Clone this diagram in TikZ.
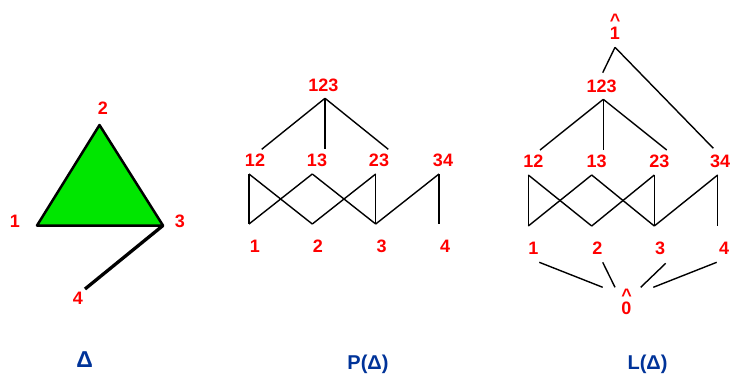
\documentclass[tikz,border=0pt]{standalone}
\usepackage{fontspec}
\setmainfont{Liberation Sans}
\definecolor{facegreen}{RGB}{0,230,0}
\definecolor{capblue}{RGB}{0,51,153}
\tikzset{
  lbl/.style={text=red, font=\fontsize{18}{21}\selectfont\bfseries, inner sep=0pt},
  caption/.style={text=capblue, font=\fontsize{20}{24}\selectfont\bfseries, inner sep=0pt},
  edge/.style={line width=1.4pt},
}
\newcommand{\hatlbl}[1]{\ooalign{\hfil\raisebox{13pt}{\textasciicircum}\hfil\cr #1}}
\begin{document}
\begin{tikzpicture}[x=1pt,y=-1pt]
  \useasboundingbox (0,0) rectangle (730,383);
  % the simplex
  \coordinate (v1) at (37,225.5);
  \coordinate (v2) at (99.5,125);
  \coordinate (v3) at (163,225.5);
  \coordinate (v4) at (85,289);
  \draw[fill=facegreen, line width=2.5pt, line join=round] (v1) -- (v2) -- (v3) -- cycle;
  \draw[line width=3.3pt] (v3) -- (v4);
  \draw
    (15,221.7) node[lbl] (s1){1}
    (103,108) node[lbl] (s2){2}
    (180,221.7) node[lbl] (s3){3}
    (78,298) node[lbl] (s4){4};
  % face poset
  \draw
    (255,246.7) node[lbl] (p1){1}
    (318,246.7) node[lbl] (p2){2}
    (381.7,246.7) node[lbl] (p3){3}
    (445,246.7) node[lbl] (p4){4}
    (255,160) node[lbl] (p12){12}
    (317,160) node[lbl] (p13){13}
    (379,160) node[lbl] (p23){23}
    (443,160) node[lbl] (p34){34}
    (323.3,85) node[lbl] (p123){123};
  \path
    (325,98.3) coordinate (p123s)
    (261.7,149.3) coordinate (p12n)
    (325,149.3) coordinate (p13n)
    (388.3,149.3) coordinate (p23n)
    (249,174) coordinate (p12s)
    (312.3,174) coordinate (p13s)
    (375.7,174) coordinate (p23s)
    (439,174) coordinate (p34s)
    (249,224) coordinate (p1n)
    (312.3,224) coordinate (p2n)
    (375.7,224) coordinate (p3n)
    (439,224) coordinate (p4n);
  \begin{scope}[edge]
    \draw (p123s) to (p12n);
    \draw (p123s) to (p13n);
    \draw (p123s) to (p23n);
    \draw (p12s) to (p1n);
    \draw (p12s) to (p2n);
    \draw (p13s) to (p1n);
    \draw (p13s) to (p3n);
    \draw (p23s) to (p2n);
    \draw (p23s) to (p3n);
    \draw (p34s) to (p3n);
    \draw (p34s) to (p4n);
  \end{scope}
  % face lattice
  \draw
    (615,39.5) node[lbl, anchor=base] (ltop){\hatlbl{1}}
    (601.7,86) node[lbl] (l123){123}
    (533.3,161.7) node[lbl] (l12){12}
    (596.7,161.7) node[lbl] (l13){13}
    (659.3,161.7) node[lbl] (l23){23}
    (720,161.7) node[lbl] (l34){34}
    (533.3,248.3) node[lbl] (l1){1}
    (597.3,248.3) node[lbl] (l2){2}
    (660,248.3) node[lbl] (l3){3}
    (724,248.3) node[lbl] (l4){4}
    (626.7,314.5) node[lbl, anchor=base] (lbot){\hatlbl{0}};
  \path
    (615,47.3) coordinate (ltops)
    (602.7,72.7) coordinate (l123n)
    (713.3,148.3) coordinate (l34n)
    (603.3,99.3) coordinate (l123s)
    (540,150) coordinate (l12n)
    (603.3,150) coordinate (l13n)
    (666.7,150) coordinate (l23n)
    (528.3,175) coordinate (l12s)
    (591.7,175) coordinate (l13s)
    (654.3,175) coordinate (l23s)
    (717.7,175) coordinate (l34s)
    (528.3,226) coordinate (l1n)
    (591.7,226) coordinate (l2n)
    (654.3,226) coordinate (l3n)
    (717.7,226) coordinate (l4n)
    (539.3,262.3) coordinate (l1s)
    (602.7,262.3) coordinate (l2s)
    (665.7,263.3) coordinate (l3s)
    (716.7,262.3) coordinate (l4s)
    (602.7,287.3) coordinate (lbota)
    (615,287.3) coordinate (lbotb)
    (640.7,287.3) coordinate (lbotc)
    (653.3,287.3) coordinate (lbotd);
  \begin{scope}[edge]
    \draw (ltops) to (l123n);
    \draw (ltops) to (l34n);
    \draw (l123s) to (l12n);
    \draw (l123s) to (l13n);
    \draw (l123s) to (l23n);
    \draw (l12s) to (l1n);
    \draw (l12s) to (l2n);
    \draw (l13s) to (l1n);
    \draw (l13s) to (l3n);
    \draw (l23s) to (l2n);
    \draw (l23s) to (l3n);
    \draw (l34s) to (l3n);
    \draw (l34s) to (l4n);
    \draw (l1s) to (lbota);
    \draw (l2s) to (lbotb);
    \draw (l3s) to (lbotc);
    \draw (l4s) to (lbotd);
  \end{scope}
  % captions
  \node[caption, font=\fontsize{23}{27}\selectfont\bfseries] (capsimplex) at (84.7,360) {Δ};
  \node[caption] (capposet) at (368,364.5) {P(Δ)};
  \node[caption] (caplattice) at (647.5,364.5) {L(Δ)};
\end{tikzpicture}
\end{document}
